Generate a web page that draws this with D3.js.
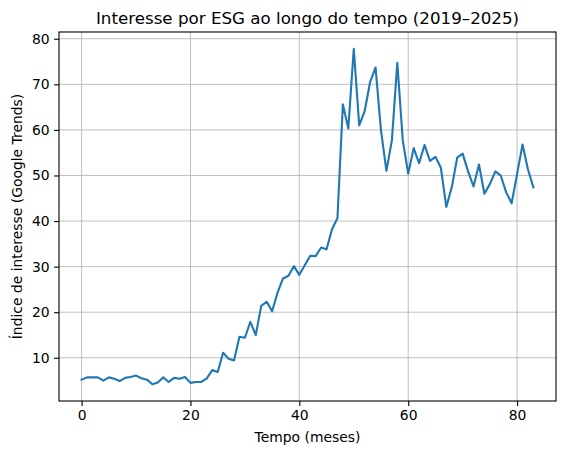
<!DOCTYPE html>
<html>
<head>
<meta charset="utf-8">
<script src="https://cdn.jsdelivr.net/npm/d3@7"></script>
<style>
  body { margin: 0; background: #fff; }
  svg text { font-family: "DejaVu Sans", sans-serif; fill: #000; }
</style>
</head>
<body>
<svg id="chart"></svg>
<script>
// monthly Google Trends interest, month 0..83
const months = d3.range(0, 84);
const interest = [
  5.2, 5.7, 5.7, 5.7, 5.0, 5.7, 5.4, 4.9, 5.6, 5.8,
  6.1, 5.5, 5.2, 4.2, 4.6, 5.7, 4.7, 5.6, 5.4, 5.8,
  4.5, 4.7, 4.7, 5.5, 7.3, 6.9, 11.1, 9.8, 9.4, 14.6,
  14.4, 17.9, 15.0, 21.4, 22.3, 20.2, 24.3, 27.4, 28.0, 30.1,
  28.2, 30.3, 32.4, 32.3, 34.2, 33.8, 38.2, 40.6, 65.6, 60.3,
  77.8, 61.0, 64.1, 70.5, 73.7, 59.9, 51.0, 57.7, 74.7, 57.7,
  50.4, 56.0, 52.7, 56.7, 53.2, 54.1, 51.7, 43.1, 47.4, 53.9,
  54.8, 50.9, 47.6, 52.4, 46.0, 48.1, 50.9, 50.0, 46.3, 43.9,
  50.3, 56.8, 51.3, 47.4
];
const xTicks = [0, 20, 40, 60, 80];
const yTicks = [10, 20, 30, 40, 50, 60, 70, 80];

const title = "Interesse por ESG ao longo do tempo (2019–2025)";
const xLabel = "Tempo (meses)";
const yLabel = "Índice de interesse (Google Trends)";

const width = 564, height = 455;
const margin = {top: 32, right: 8, bottom: 54, left: 59};
const innerW = width - margin.left - margin.right;
const innerH = height - margin.top - margin.bottom;

const svg = d3.select("#chart").attr("width", width).attr("height", height);
const g = svg.append("g").attr("transform", `translate(${margin.left},${margin.top})`);

// matplotlib-style 5% margins
const xExt = d3.extent(months), yExt = d3.extent(interest);
const xPad = (xExt[1] - xExt[0]) * 0.05, yPad = (yExt[1] - yExt[0]) * 0.05;

const x = d3.scaleLinear().domain([xExt[0] - xPad, xExt[1] + xPad]).range([0, innerW]);
const y = d3.scaleLinear().domain([yExt[0] - yPad, yExt[1] + yPad]).range([innerH, 0]);

// grid
g.append("g").selectAll("line").data(xTicks).join("line")
  .attr("x1", d => x(d)).attr("x2", d => x(d))
  .attr("y1", 0).attr("y2", innerH)
  .attr("stroke", "#b0b0b0").attr("stroke-width", 0.8);
g.append("g").selectAll("line").data(yTicks).join("line")
  .attr("y1", d => y(d)).attr("y2", d => y(d))
  .attr("x1", 0).attr("x2", innerW)
  .attr("stroke", "#b0b0b0").attr("stroke-width", 0.8);

// axes
const xAxis = g.append("g")
  .attr("transform", `translate(0,${innerH})`)
  .call(d3.axisBottom(x).tickValues(xTicks).tickFormat(d3.format("d")).tickSize(4.9).tickPadding(4.5).tickSizeOuter(0));
const yAxis = g.append("g")
  .call(d3.axisLeft(y).tickValues(yTicks).tickFormat(d3.format("d")).tickSize(4.9).tickPadding(4.5).tickSizeOuter(0));
[xAxis, yAxis].forEach(a => {
  a.select(".domain").remove();
  a.selectAll(".tick line").attr("stroke", "#000").attr("stroke-width", 1.1);
  a.selectAll(".tick text").attr("font-size", "13.9px").attr("font-family", "DejaVu Sans, sans-serif").attr("fill", "#000");
});

// data line
g.append("path")
  .datum(months.map((m, i) => ({x: m, y: interest[i]})))
  .attr("fill", "none")
  .attr("stroke", "#1f77b4")
  .attr("stroke-width", 2.1)
  .attr("stroke-linejoin", "round")
  .attr("stroke-linecap", "square")
  .attr("d", d3.line().x(d => x(d.x)).y(d => y(d.y)));

// frame
g.append("rect")
  .attr("width", innerW).attr("height", innerH)
  .attr("fill", "none").attr("stroke", "#000").attr("stroke-width", 1.1);

// labels
svg.append("text")
  .attr("x", margin.left + innerW / 2).attr("y", 24)
  .attr("text-anchor", "middle").attr("font-size", "16.7px")
  .text(title);
svg.append("text")
  .attr("x", margin.left + innerW / 2).attr("y", 442)
  .attr("text-anchor", "middle").attr("font-size", "13.9px")
  .text(xLabel);
svg.append("text")
  .attr("transform", `translate(22,${margin.top + innerH / 2}) rotate(-90)`)
  .attr("text-anchor", "middle").attr("font-size", "13.9px")
  .text(yLabel);
</script>
</body>
</html>
